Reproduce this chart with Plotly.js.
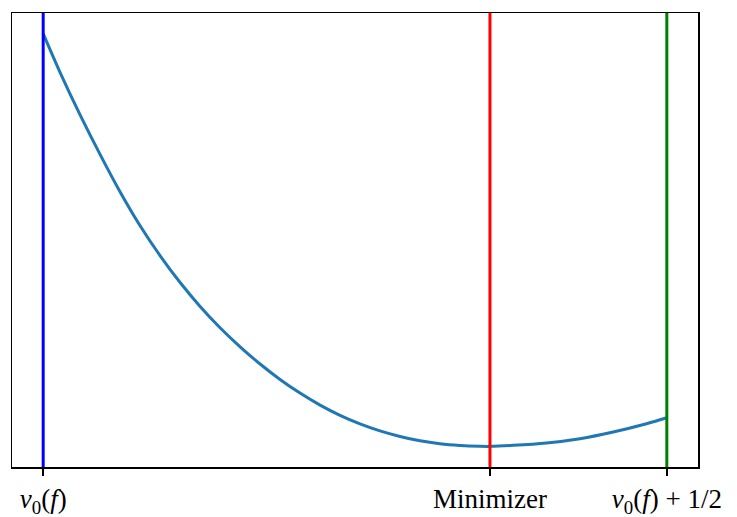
<!DOCTYPE html>
<html>
<head>
<meta charset="utf-8">
<script src="https://cdn.plot.ly/plotly-3.0.1.min.js"></script>
<style>html,body{margin:0;padding:0;background:#fff;}#chart{width:737px;height:517px;}</style>
</head>
<body>
<div id="chart"></div>
<script>
// Curve samples (x offset from nu0(f), normalized objective value)
const curveX = [0, 0.0136, 0.0296, 0.0457, 0.0617, 0.0777, 0.0938, 0.1098, 0.1258, 0.1418, 0.1579, 0.1739, 0.1899, 0.2059, 0.2220, 0.2380, 0.2540, 0.2700, 0.2861, 0.3021, 0.3181, 0.3341, 0.3502, 0.3582, 0.3768, 0.4036, 0.4303, 0.4570, 0.4837, 0.5];
const curveY = [1.0, 0.9058, 0.8033, 0.7069, 0.6165, 0.5346, 0.4618, 0.3970, 0.3391, 0.2875, 0.2413, 0.1996, 0.1622, 0.1291, 0.1000, 0.0752, 0.0545, 0.0376, 0.0241, 0.0135, 0.0063, 0.0022, 0.0002, 0.0, 0.0024, 0.0082, 0.0186, 0.0347, 0.0547, 0.0692];

// Vertical marker positions and colours
const markerX = [0, 0.3582, 0.5];
const markerColors = ['#0000ff', '#ff0000', '#008000'];

// Tick labels
const tickText = ['<i>ν</i><sub>0</sub>(<i>f</i>)', 'Minimizer', '<i>ν</i><sub>0</sub>(<i>f</i>) + 1/2'];

const yRange = [-0.05, 1.05];

const traces = [{
  x: curveX, y: curveY, mode: 'lines', type: 'scatter',
  line: {color: '#1f77b4', width: 3, shape: 'spline', smoothing: 1},
  hoverinfo: 'skip'
}];
markerX.forEach((mx, i) => {
  traces.push({
    x: [mx, mx], y: yRange, mode: 'lines', type: 'scatter',
    line: {color: markerColors[i], width: 3},
    hoverinfo: 'skip'
  });
});

const layout = {
  width: 737, height: 517,
  margin: {l: 12, r: 39, t: 13, b: 50},
  showlegend: false,
  paper_bgcolor: '#fff', plot_bgcolor: '#fff',
  font: {family: 'Liberation Serif, Times New Roman, serif', color: '#000', size: 26},
  xaxis: {
    range: [-0.025, 0.525],
    tickvals: markerX, ticktext: tickText,
    ticks: 'outside', ticklen: 7, tickwidth: 1.5, tickcolor: '#000',
    showline: true, mirror: true, linecolor: '#000', linewidth: 1.5,
    showgrid: false, zeroline: false,
    tickfont: {family: 'Liberation Serif, Times New Roman, serif', size: 27, color: '#000'}
  },
  yaxis: {
    range: yRange,
    showticklabels: false, ticks: '',
    showline: true, mirror: true, linecolor: '#000', linewidth: 1.5,
    showgrid: false, zeroline: false
  }
};

Plotly.newPlot('chart', traces, layout, {staticPlot: true, displayModeBar: false});
</script>
</body>
</html>
